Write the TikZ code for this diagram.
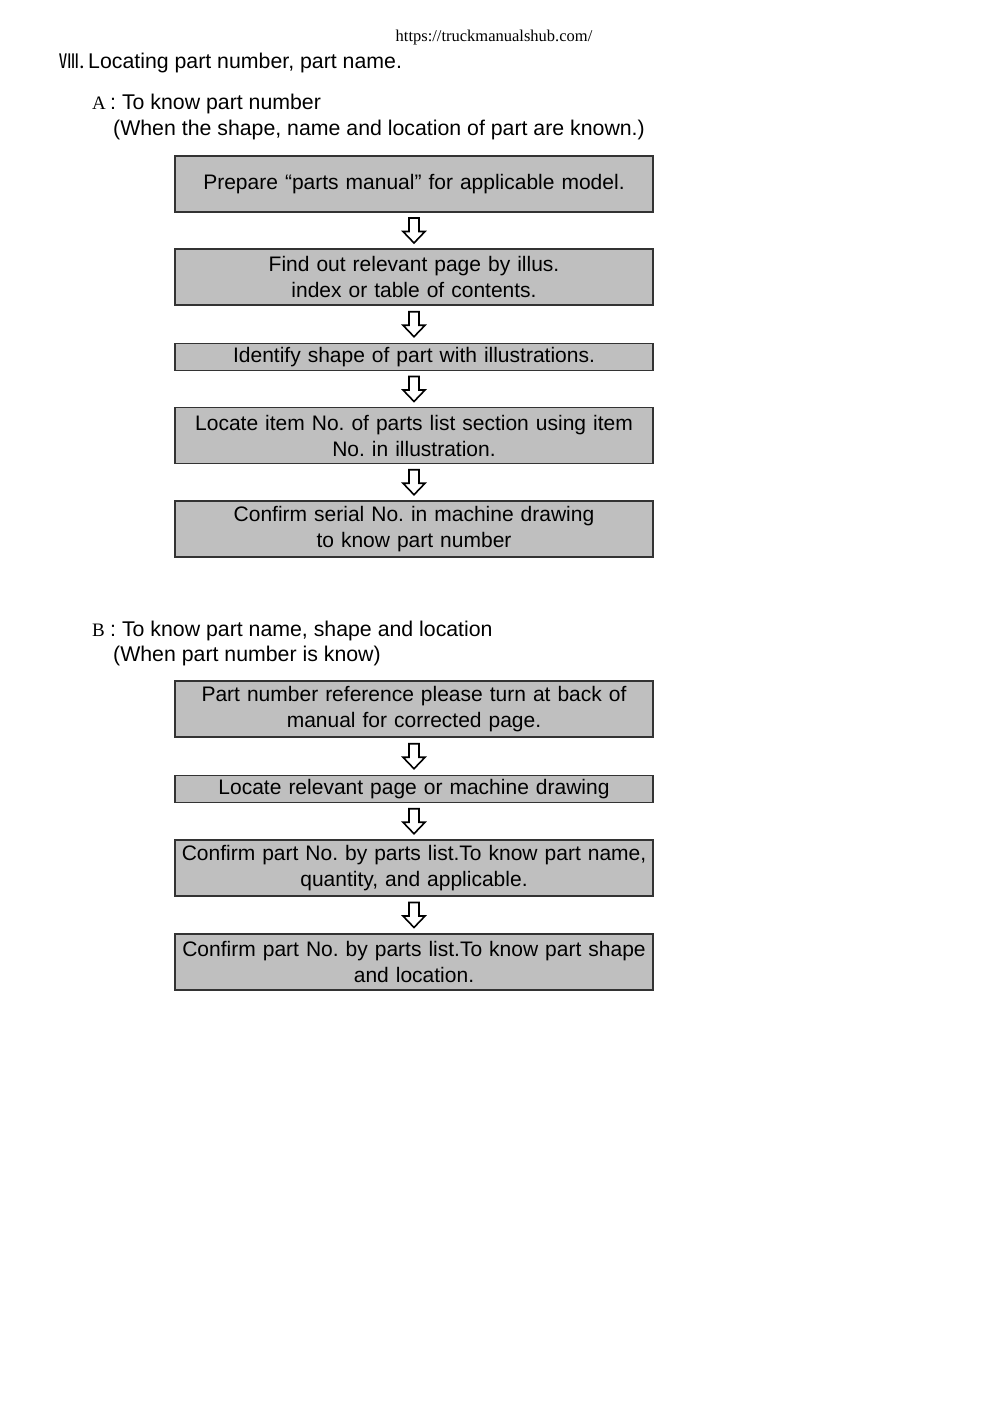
\documentclass[tikz,border=0pt]{standalone}
\usepackage{fontspec}
\setmainfont{Liberation Sans}
\newfontfamily\serifurl{Liberation Serif}
\newfontfamily\cjkfont{Noto Sans CJK JP}
\usetikzlibrary{calc}
\frenchspacing
\tikzset{
  x=1pt, y=-1pt,
  txt/.style={anchor=base west, inner sep=0pt, font=\fontsize{21.3}{26}\selectfont\frenchspacing},
  box/.style={draw=black!80, line width=1.3pt, fill=black!25, minimum width=478pt,
    text width=478pt, inner xsep=0pt, inner ysep=0pt, align=center,
    font=\fontsize{21}{26}\selectfont\frenchspacing},
  tall/.style={minimum height=56pt},
  short/.style={minimum height=27pt},
  pics/downarr/.style={code={
    \draw[line width=1.6pt, fill=white, line join=miter]
      (-5,-12.5) -- (5,-12.5) -- (5,1) -- (11,1) -- (0,12.5) -- (-11,1) -- (-5,1) -- cycle;
  }}
}
\begin{document}
\begin{tikzpicture}
\useasboundingbox (0,0) rectangle (992,1404);
% header
\node[anchor=base, inner sep=0pt, font=\serifurl\fontsize{16.5}{18}\selectfont] (url) at (494,42) {https://truckmanualshub.com/};
\node[anchor=base west, inner sep=0pt, font=\cjkfont\fontsize{20}{24}\selectfont] (num) at (59,69) {Ⅷ.};
\node[txt] (title) at (88,69) {Locating part number, part name.};
% section A
\node[anchor=base west, inner sep=0pt, font=\serifurl\fontsize{19}{22}\selectfont] (la) at (92,110) {A};
\node[txt] (ha) at (110,110) {: To know part number};
\node[txt] (sa) at (113,136) {(When the shape, name and location of part are known.)};
\node[box, tall] (a1) at (414,184) {Prepare “parts manual” for applicable model.};
\node[box, tall] (a2) at (414,277) {Find out relevant page by illus.\\index or table of contents.};
\node[box, short] (a3) at (414,357) {Identify shape of part with illustrations.};
\node[box, tall] (a4) at (414,435.5) {Locate item No. of parts list section using item\\No. in illustration.};
\node[box, tall] (a5) at (414,529) {Confirm serial No. in machine drawing\\to know part number};
\coordinate (ma1) at ($(a1.south)!0.5!(a2.north)$);
\coordinate (ma2) at ($(a2.south)!0.5!(a3.north)$);
\coordinate (ma3) at ($(a3.south)!0.5!(a4.north)$);
\coordinate (ma4) at ($(a4.south)!0.5!(a5.north)$);
\foreach \m in {ma1,ma2,ma3,ma4} { \pic at (\m) {downarr}; }
% section B
\node[anchor=base west, inner sep=0pt, font=\serifurl\fontsize{19}{22}\selectfont] (lb) at (92,636) {B};
\node[txt] (hb) at (110,636) {: To know part name, shape and location};
\node[txt] (sb) at (113,661) {(When part number is know)};
\node[box, tall] (b1) at (414,709) {Part number reference please turn at back of\\manual for corrected page.};
\node[box, short] (b2) at (414,789) {Locate relevant page or machine drawing};
\node[box, tall] (b3) at (414,868) {Confirm part No. by parts list.To know part name,\\quantity, and applicable.};
\node[box, tall] (b4) at (414,962) {Confirm part No. by parts list.To know part shape\\and location.};
\coordinate (mb1) at ($(b1.south)!0.5!(b2.north)$);
\coordinate (mb2) at ($(b2.south)!0.5!(b3.north)$);
\coordinate (mb3) at ($(b3.south)!0.5!(b4.north)$);
\foreach \m in {mb1,mb2,mb3} { \pic at (\m) {downarr}; }
\end{tikzpicture}
\end{document}
